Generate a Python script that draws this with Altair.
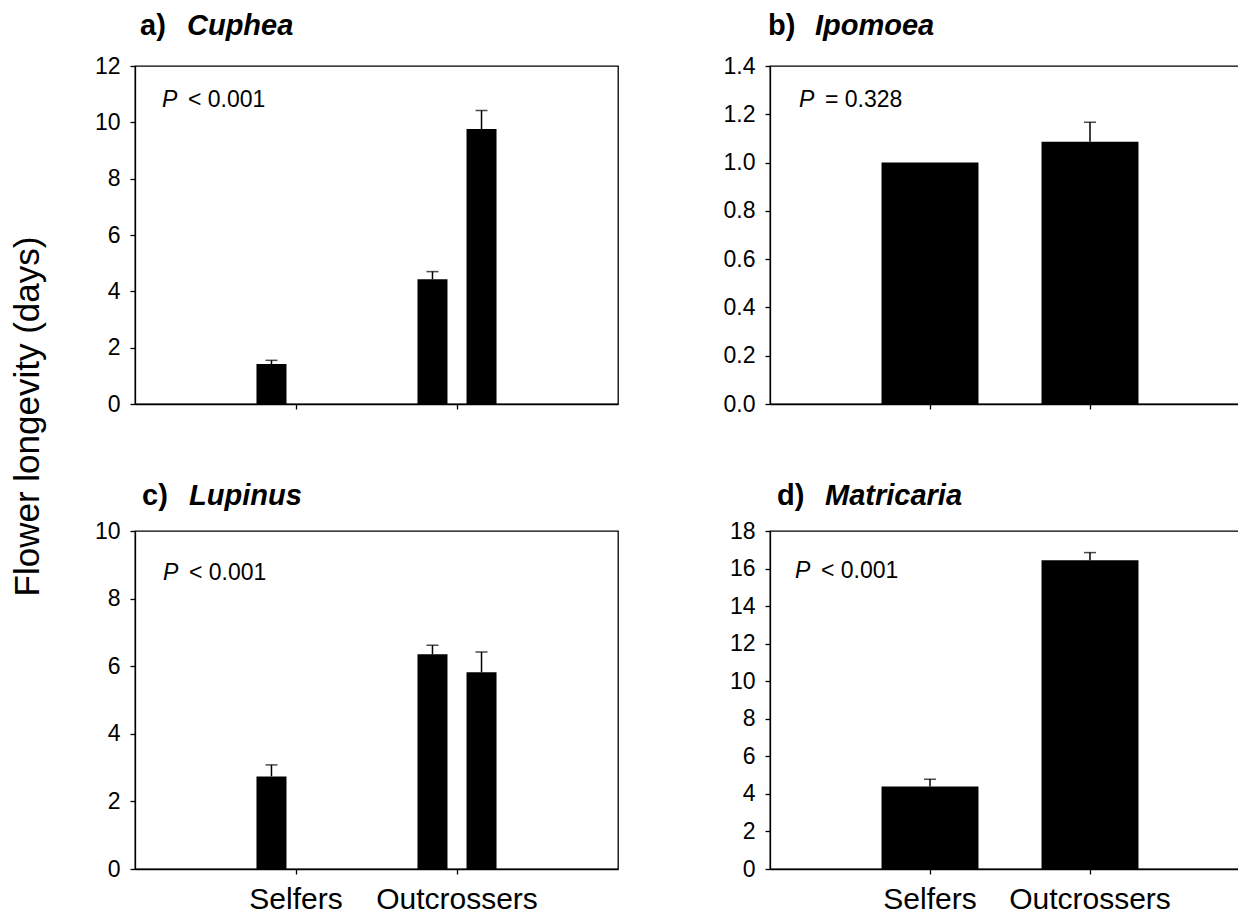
import altair as alt
import pandas as pd

FONT = "Liberation Sans"
groups = ["Selfers", "Outcrossers"]
species = ["1", "2"]

# a) Cuphea
cuphea_group = ["Selfers", "Outcrossers", "Outcrossers"]
cuphea_species = ["1", "1", "2"]
cuphea_mean = [1.42, 4.43, 9.76]
cuphea_upper = [1.55, 4.70, 10.42]

# b) Ipomoea
ipomoea_group = ["Selfers", "Outcrossers"]
ipomoea_species = ["1", "1"]
ipomoea_mean = [1.0, 1.086]
ipomoea_upper = [None, 1.167]

# c) Lupinus
lupinus_group = ["Selfers", "Selfers", "Outcrossers", "Outcrossers"]
lupinus_species = ["1", "2", "1", "2"]
lupinus_mean = [2.74, 0.0, 6.35, 5.82]
lupinus_upper = [3.08, None, 6.62, 6.42]

# d) Matricaria
matricaria_group = ["Selfers", "Outcrossers"]
matricaria_species = ["1", "1"]
matricaria_mean = [4.39, 16.44]
matricaria_upper = [4.78, 16.85]

y_title = "Flower longevity (days)"


def panel(group, sp, mean, upper, letter, genus, p_op, ymax, ystep, yfmt,
          grouped, show_labels, width, title_dx, genus_dx, title_dy, p_dx, p_dy, ytitle=False):
    df = pd.DataFrame({"group": group, "species": sp, "mean": mean, "upper": upper})
    if grouped:
        xscale = alt.Scale(domain=groups, paddingInner=0.509, paddingOuter=0.7545)
    else:
        xscale = alt.Scale(domain=groups, paddingInner=0.394, paddingOuter=0.697)
    xaxis = alt.Axis(title=None, labels=show_labels, labelAngle=0, labelFontSize=30,
                     labelPadding=10, tickSize=5, labelColor="black")
    x = alt.X("group:N", sort=groups, scale=xscale, axis=xaxis)
    vals = []
    v = 0.0
    while v <= ymax + 1e-9:
        vals.append(round(v, 3))
        v += ystep
    yargs = dict(values=vals, format=yfmt, tickSize=5, labelFontSize=23, labelPadding=10,
                 grid=False, labelColor="black", title=None)
    if ytitle:
        yargs.update(title=y_title, titleFontSize=35, titleFontWeight="normal",
                     titleX=-97, titleY=350, titleAngle=270, titleAlign="center",
                     titleBaseline="alphabetic", titleColor="black")
    yaxis = alt.Axis(**yargs)
    yscale = alt.Scale(domain=[0, ymax], nice=False, zero=True)
    enc = dict(x=x)
    if grouped:
        enc["xOffset"] = alt.XOffset("species:N", scale=alt.Scale(domain=species, paddingInner=0.388, paddingOuter=0))
    base = alt.Chart(df)
    bars = base.mark_bar(color="black").encode(
        y=alt.Y("mean:Q", scale=yscale, axis=yaxis), **enc)
    err = base.transform_filter("isValid(datum.upper)")
    rule = err.mark_rule(color="black", strokeWidth=1.5).encode(
        y=alt.Y("mean:Q", scale=yscale, axis=yaxis), y2="upper:Q", **enc)
    cap = err.mark_tick(color="black", thickness=1.5, size=12).encode(
        y=alt.Y("upper:Q", scale=yscale, axis=yaxis), **enc)

    t1 = alt.Chart(pd.DataFrame({"t": [letter]})).mark_text(
        align="left", baseline="alphabetic", font=FONT, fontSize=29, fontWeight="bold",
        color="black").encode(text="t:N", x=alt.value(title_dx), y=alt.value(title_dy))
    t2 = alt.Chart(pd.DataFrame({"t": [genus]})).mark_text(
        align="left", baseline="alphabetic", font=FONT, fontSize=29, fontWeight="bold",
        fontStyle="italic", color="black").encode(
        text="t:N", x=alt.value(genus_dx), y=alt.value(title_dy))
    p1 = alt.Chart(pd.DataFrame({"t": ["P"]})).mark_text(
        align="left", baseline="alphabetic", font=FONT, fontSize=23, fontStyle="italic",
        color="black").encode(text="t:N", x=alt.value(p_dx), y=alt.value(p_dy))
    p2 = alt.Chart(pd.DataFrame({"t": [p_op]})).mark_text(
        align="left", baseline="alphabetic", font=FONT, fontSize=23,
        color="black").encode(text="t:N", x=alt.value(p_dx + 26), y=alt.value(p_dy))
    return alt.layer(bars, rule, cap, t1, t2, p1, p2).properties(width=width, height=338)


pa = panel(cuphea_group, cuphea_species, cuphea_mean, cuphea_upper, "a)", "Cuphea",
           "< 0.001", 12, 2, "d", True, False, 483, 5, 52, -31, 27, 41, ytitle=True)
pb = panel(ipomoea_group, ipomoea_species, ipomoea_mean, ipomoea_upper, "b)", "Ipomoea",
           "= 0.328", 1.4, 0.2, ".1f", False, False, 480, -2, 45, -31, 29, 41)
pc = panel(lupinus_group, lupinus_species, lupinus_mean, lupinus_upper, "c)", "Lupinus",
           "< 0.001", 10, 2, "d", True, True, 483, 7, 54, -26, 28, 49)
pd_ = panel(matricaria_group, matricaria_species, matricaria_mean, matricaria_upper, "d)",
            "Matricaria", "< 0.001", 18, 2, "d", False, True, 480, 7, 55, -26, 25, 47)

chart = alt.concat(pa, pb, pc, pd_, columns=2, spacing={"row": 127, "column": 152}).properties(
    bounds="flush",
    autosize=alt.AutoSizeParams(type="none"),
    padding={"left": 127, "top": 58, "right": 1103, "bottom": 849},
).configure(font=FONT).configure_view(stroke="black", strokeWidth=1.3).configure_axis(
    domainColor="black", domainWidth=1.3, tickColor="black", tickWidth=1.3,
    labelFont=FONT, titleFont=FONT
)

chart.save("out.html", embed_options={"renderer": "svg", "actions": False})
